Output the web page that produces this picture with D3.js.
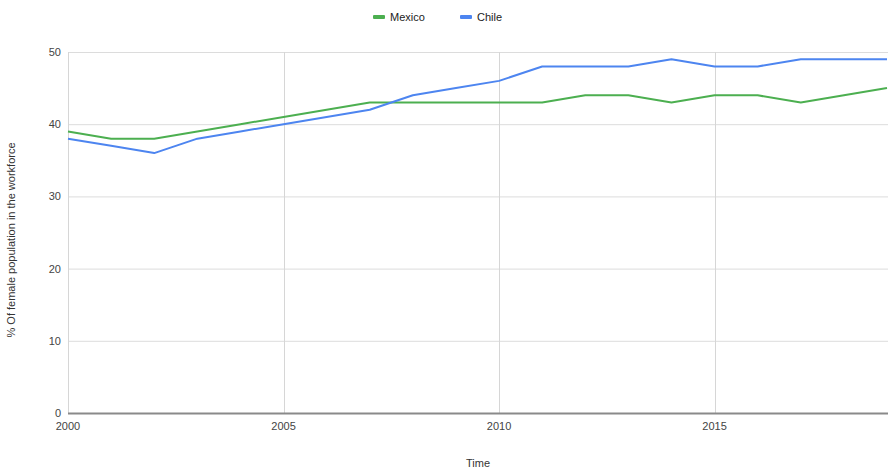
<!DOCTYPE html>
<html><head><meta charset="utf-8">
<script src="https://cdn.jsdelivr.net/npm/d3@7"></script>
<style>body{margin:0;background:#fff;}svg{display:block;font-family:"Liberation Sans",Arial,sans-serif;}</style>
</head><body><svg id="c" width="888" height="470"></svg>
<script>
const years = [2000,2001,2002,2003,2004,2005,2006,2007,2008,2009,2010,2011,2012,2013,2014,2015,2016,2017,2018,2019];
const mexico = [39,38,38,39,40,41,42,43,43,43,43,43,44,44,43,44,44,43,44,45];
const chile  = [38,37,36,38,39,40,41,42,44,45,46,48,48,48,49,48,48,49,49,49];
const seriesNames = ["Mexico","Chile"];
const seriesColors = ["#4caf50","#4d85f0"];
const yTicks = [0,10,20,30,40,50];
const xTicks = [2000,2005,2010,2015];

const svg = d3.select("#c");
const x = d3.scaleLinear().domain([2000,2019]).range([68,887]);
const y = d3.scaleLinear().domain([0,50]).range([413,52]);

// horizontal grid
svg.append("g").selectAll("line").data(yTicks.filter(d=>d>0)).join("line")
  .attr("x1",68).attr("x2",888).attr("y1",d=>y(d)+0.5).attr("y2",d=>y(d)+0.5)
  .attr("stroke","#dcdcdc").attr("stroke-width",1);
// vertical grid
svg.append("g").selectAll("line").data(xTicks).join("line")
  .attr("x1",d=>Math.round(x(d))+0.5).attr("x2",d=>Math.round(x(d))+0.5).attr("y1",52).attr("y2",413)
  .attr("stroke","#d6d6d6").attr("stroke-width",1);

// y labels
svg.append("g").selectAll("text").data(yTicks).join("text")
  .attr("x",61).attr("y",d=>y(d)+4).attr("text-anchor","end")
  .attr("font-size",11).attr("fill","#444").text(d=>d);
// x labels
svg.append("g").selectAll("text").data(xTicks).join("text")
  .attr("x",d=>x(d)).attr("y",430).attr("text-anchor","middle")
  .attr("font-size",11).attr("fill","#444").text(d=>d);

// baseline
svg.append("line").attr("x1",68).attr("x2",888).attr("y1",413.5).attr("y2",413.5)
  .attr("stroke","#8a8a8a").attr("stroke-width",2);

// lines
const line = d3.line().x((d,i)=>x(years[i])).y(d=>y(d));
[mexico, chile].forEach((s,i)=>{
  svg.append("path").datum(s).attr("d",line).attr("fill","none")
    .attr("stroke",seriesColors[i]).attr("stroke-width",2).attr("stroke-linejoin","round");
});

// axis titles
svg.append("text").attr("x",478).attr("y",467).attr("text-anchor","middle")
  .attr("font-size",11).attr("fill","#333").text("Time");
svg.append("text").attr("transform","translate(15,240) rotate(-90)").attr("text-anchor","middle")
  .attr("font-size",11).attr("fill","#333").text("% Of female population in the workforce");

// legend
const lg = svg.append("g");
const legendX = [373, 460];
seriesNames.forEach((n,i)=>{
  lg.append("rect").attr("x",legendX[i]).attr("y",15).attr("width",12).attr("height",4)
    .attr("rx",1).attr("fill",seriesColors[i]);
  lg.append("text").attr("x",legendX[i]+17).attr("y",21).attr("font-size",11)
    .attr("fill","#222").text(n);
});
</script></body></html>
